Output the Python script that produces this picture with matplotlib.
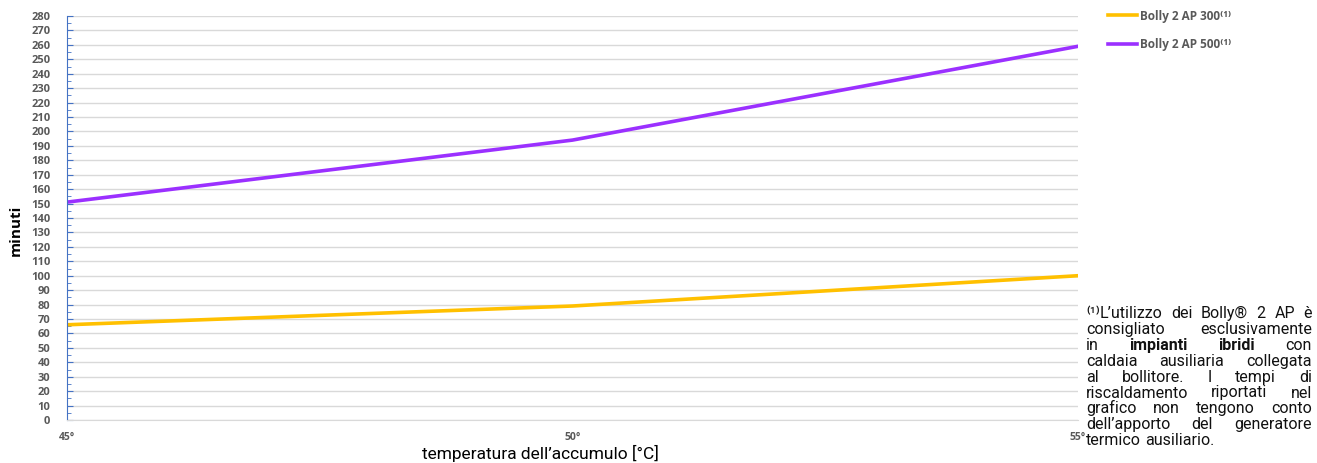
import matplotlib.pyplot as plt
from matplotlib.ticker import MultipleLocator

# data
temps = [45, 50, 55]
tick_labels = ["45°", "50°", "55°"]
ap300 = [66, 79, 100]
ap500 = [151, 194, 259]
series_names = ["Bolly 2 AP 300⁽¹⁾", "Bolly 2 AP 500⁽¹⁾"]

plt.rcParams['font.family'] = ['Open Sans', 'DejaVu Sans']

fig = plt.figure(figsize=(13.17, 4.63), dpi=100)
ax = fig.add_axes([67/1317, 43/463, 1011/1317, 404/463])

ax.plot(temps, ap300, color="#FFC000", lw=2.6, label=series_names[0])
ax.plot(temps, ap500, color="#9B30FF", lw=2.6, label=series_names[1])

ax.set_xlim(45, 55)
ax.set_ylim(0, 280)
ax.yaxis.set_major_locator(MultipleLocator(10))
ax.yaxis.set_minor_locator(MultipleLocator(5))
ax.grid(axis='y', color="#D9D9D9", lw=1)
ax.set_axisbelow(True)

for s in ['top', 'right']:
    ax.spines[s].set_visible(False)
ax.spines['bottom'].set_color("#D9D9D9")
ax.spines['left'].set_color("#4472C4")
ax.tick_params(axis='y', which='both', direction='in', color="#4472C4",
               labelsize=8, labelcolor="#595959", pad=12)
ax.tick_params(axis='y', which='major', length=4)
ax.tick_params(axis='y', which='minor', length=3)
for t in ax.get_yticklabels():
    t.set_fontweight('bold')

ax.set_xticks(temps)
ax.set_xticklabels(tick_labels, fontsize=7.5, color="#595959", fontweight='bold')
ax.tick_params(axis='x', length=0, pad=9)

ax.set_ylabel("minuti", fontsize=11, fontweight='bold')
ax.yaxis.set_label_coords(-0.044, 0.47)
ax.set_xlabel("temperatura dell’accumulo [°C]", fontsize=12.5, family=['Roboto', 'DejaVu Sans'])
ax.xaxis.set_label_coords(0.468, -0.063)

fig.legend(loc='upper left', bbox_to_anchor=(1097/1317, 1 + 1/463), frameon=False,
           prop={'weight': 'bold', 'size': 8.5}, labelcolor="#595959",
           handlelength=2.5, handletextpad=0.2, labelspacing=1.3)

# footnote, justified line by line
lines = [
    [("⁽¹⁾", 'normal'), ("L’utilizzo", 'normal'), ("dei", 'normal'), ("Bolly®", 'normal'),
     ("2", 'normal'), ("AP", 'normal'), ("è", 'normal')],
    [("consigliato", 'normal'), ("esclusivamente", 'normal')],
    [("in", 'normal'), ("impianti", 'bold'), ("ibridi", 'bold'), ("con", 'normal')],
    [("caldaia", 'normal'), ("ausiliaria", 'normal'), ("collegata", 'normal')],
    [("al", 'normal'), ("bollitore.", 'normal'), ("I", 'normal'), ("tempi", 'normal'), ("di", 'normal')],
    [("riscaldamento", 'normal'), ("riportati", 'normal'), ("nel", 'normal')],
    [("grafico", 'normal'), ("non", 'normal'), ("tengono", 'normal'), ("conto", 'normal')],
    [("dell’apporto", 'normal'), ("del", 'normal'), ("generatore", 'normal')],
    [("termico", 'normal'), ("ausiliario.", 'normal')],
]
x0, x1 = 1086, 1312
y_top = 318
step = 15.9
fam = ['Roboto', 'DejaVu Sans']
renderer = fig.canvas.get_renderer()
for i, words in enumerate(lines):
    y = 1 - (y_top + i * step) / 463
    texts = []
    for w, wt in words:
        t = fig.text(0, y, w, fontsize=11.5, fontweight=wt, family=fam, color="#111111",
                     va='baseline', ha='left')
        texts.append(t)
    widths = [t.get_window_extent(renderer).width for t in texts]
    # superscript marker glued to the next word
    glue = words[0][0] == "⁽¹⁾"
    n_gaps = len(texts) - 1 - (1 if glue else 0)
    last = i == len(lines) - 1
    if last or n_gaps == 0:
        gap = 4
    else:
        gap = (x1 - x0 - sum(widths)) / n_gaps
    x = x0
    for j, t in enumerate(texts):
        t.set_x(x / 1317)
        x += widths[j]
        if not (glue and j == 0):
            x += gap

fig.savefig("out.png", dpi=100)
